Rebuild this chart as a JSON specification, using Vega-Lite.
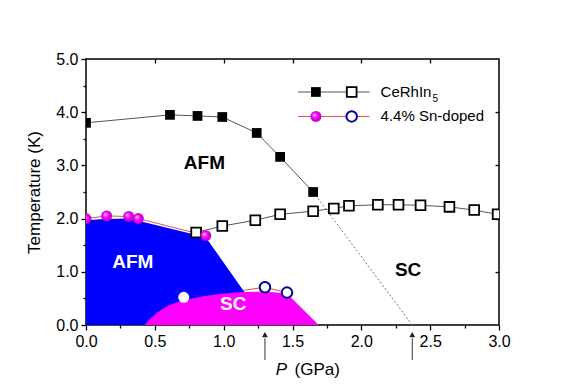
{
  "$schema": "https://vega.github.io/schema/vega-lite/v6.json",
  "width": 413,
  "height": 266,
  "autosize": {"type": "none"},
  "padding": {"left": 86, "top": 59, "right": 68, "bottom": 67},
  "config": {
    "font": "Liberation Sans",
    "view": {"stroke": "black", "strokeWidth": 1.5},
    "axis": {"grid": false, "domain": false, "labelFlush": false, "labelOverlap": false, "labelFont": "Liberation Sans", "labelFontSize": 16, "labelColor": "black", "tickColor": "black", "tickWidth": 1.3, "titleFont": "Liberation Sans", "titleColor": "black", "titleFontWeight": "normal"}
  },
  "datasets": {
    "afm_area": [{"P":0,"T":1.97},{"P":0.1,"T":1.99},{"P":0.29,"T":2.0},{"P":0.41,"T":1.94},{"P":0.87,"T":1.65},{"P":1.14,"T":0.66},{"P":1.36,"T":0}],
    "sc_area": [{"P":0.425,"T":0},{"P":0.47,"T":0.12},{"P":0.52,"T":0.24},{"P":0.6,"T":0.37},{"P":0.7,"T":0.46},{"P":0.85,"T":0.54},{"P":1.0,"T":0.59},{"P":1.15,"T":0.62},{"P":1.3,"T":0.63},{"P":1.46,"T":0.59},{"P":1.69,"T":0}],
    "tn_ce": [{"P":0,"T":3.8},{"P":0.61,"T":3.95},{"P":0.81,"T":3.93},{"P":0.99,"T":3.91},{"P":1.24,"T":3.61},{"P":1.41,"T":3.16},{"P":1.65,"T":2.5}],
    "dotted": [{"P":1.65,"T":2.5},{"P":2.37,"T":0}],
    "tc_ce": [{"P":0.8,"T":1.74},{"P":0.99,"T":1.86},{"P":1.23,"T":1.97},{"P":1.41,"T":2.08},{"P":1.65,"T":2.14},{"P":1.8,"T":2.19},{"P":1.91,"T":2.24},{"P":2.12,"T":2.26},{"P":2.27,"T":2.26},{"P":2.43,"T":2.25},{"P":2.64,"T":2.22},{"P":2.82,"T":2.16},{"P":2.99,"T":2.08}],
    "tn_sn": [{"P":0,"T":2.0},{"P":0.15,"T":2.05},{"P":0.31,"T":2.04},{"P":0.38,"T":2.0},{"P":0.87,"T":1.68}],
    "tc_sn_line": [{"P":1.14,"T":0.65},{"P":1.3,"T":0.71},{"P":1.46,"T":0.61}],
    "tc_sn": [{"P":1.3,"T":0.71},{"P":1.46,"T":0.61}],
    "white_pt": [{"P":0.71,"T":0.52}],
    "arrows": [{"P":1.3,"T":-0.25,"T2":-0.66},{"P":2.37,"T":-0.25,"T2":-0.66}],
    "arrowheads": [{"P":1.3,"T":-0.18},{"P":2.37,"T":-0.18}],
    "labels_black": [{"P":0.86,"T":3.04,"label":"AFM"},{"P":2.34,"T":1.03,"label":"SC"}],
    "labels_white": [{"P":0.34,"T":1.18,"label":"AFM"},{"P":1.07,"T":0.39,"label":"SC"}],
    "leg_line1": [{"P":1.54,"T":4.38},{"P":2.06,"T":4.38}],
    "leg_line2": [{"P":1.54,"T":3.92},{"P":2.06,"T":3.92}],
    "leg_fsq": [{"P":1.67,"T":4.38}],
    "leg_osq": [{"P":1.93,"T":4.38}],
    "leg_sph": [{"P":1.67,"T":3.92}],
    "leg_oc": [{"P":1.93,"T":3.92}],
    "leg_text1": [{"P":2.14,"T":4.38,"label":"CeRhIn"}],
    "leg_sub": [{"P":2.14,"T":4.38,"label":"5"}],
    "leg_text2": [{"P":2.14,"T":3.92,"label":"4.4% Sn-doped"}],
    "xt_p": [{"P":1.42,"T":-0.85,"label":"P"}],
    "xt_g": [{"P":1.68,"T":-0.85,"label":"(GPa)"}]
  },
  "encoding": {
    "x": {"field": "P", "type": "quantitative", "scale": {"domain": [0, 3], "nice": false}, "axis": null},
    "y": {"field": "T", "type": "quantitative", "scale": {"domain": [0, 5], "nice": false}, "axis": null}
  },
  "resolve": {"axis": {"x": "independent", "y": "independent"}},
  "layer": [
    {
      "data": {"name": "afm_area"},
      "mark": {"type": "area", "color": "#0000ff", "clip": true},
      "encoding": {
        "x": {"field": "P", "type": "quantitative", "scale": {"domain": [0, 3], "nice": false},
          "axis": {"orient": "bottom", "values": [0, 0.5, 1, 1.5, 2, 2.5, 3], "format": ".1f", "tickSize": 5, "labelPadding": 3, "title": null}},
        "y": {"field": "T", "type": "quantitative", "scale": {"domain": [0, 5], "nice": false},
          "axis": {"orient": "left", "values": [0, 1, 2, 3, 4, 5], "format": ".1f", "tickSize": 5, "labelPadding": 3, "title": "Temperature (K)", "titleFontSize": 17, "titlePadding": 12}}
      }
    },
    {
      "data": {"name": "sc_area"},
      "mark": {"type": "area", "color": "#ff00ff", "clip": true},
      "encoding": {
        "x": {"field": "P", "type": "quantitative", "scale": {"domain": [0, 3], "nice": false},
          "axis": {"orient": "top", "values": [0.5, 1, 1.5, 2, 2.5], "labels": false, "tickSize": -4, "title": null}},
        "y": {"field": "T", "type": "quantitative", "scale": {"domain": [0, 5], "nice": false},
          "axis": {"orient": "right", "values": [1, 2, 3, 4], "labels": false, "tickSize": -4, "title": null}}
      }
    },
    {
      "data": {"name": "labels_white"},
      "mark": {"type": "text", "color": "white", "fontSize": 19, "fontWeight": "bold", "align": "center", "baseline": "middle"},
      "encoding": {
        "text": {"field": "label"},
        "x": {"field": "P", "type": "quantitative", "scale": {"domain": [0, 3], "nice": false},
          "axis": {"orient": "bottom", "values": [0.25, 0.75, 1.25, 1.75, 2.25, 2.75], "labels": false, "tickSize": 3, "title": null}},
        "y": {"field": "T", "type": "quantitative", "scale": {"domain": [0, 5], "nice": false},
          "axis": {"orient": "left", "values": [0.5, 1.5, 2.5, 3.5, 4.5], "labels": false, "tickSize": 3, "title": null}}
      }
    },
    {
      "data": {"name": "dotted"},
      "mark": {"type": "line", "color": "#777777", "strokeWidth": 1, "strokeDash": [2, 2], "clip": true},
      "encoding": {}
    },
    {
      "data": {"name": "tn_ce"},
      "mark": {"type": "line", "color": "#555555", "strokeWidth": 1, "clip": true},
      "encoding": {}
    },
    {
      "data": {"name": "tc_ce"},
      "mark": {"type": "line", "color": "#555555", "strokeWidth": 1, "clip": true},
      "encoding": {}
    },
    {
      "data": {"name": "tn_sn"},
      "mark": {"type": "line", "color": "#e05050", "strokeWidth": 1, "clip": true},
      "encoding": {}
    },
    {
      "data": {"name": "tc_sn_line"},
      "mark": {"type": "line", "color": "#e05050", "strokeWidth": 1, "clip": true},
      "encoding": {}
    },
    {
      "data": {"name": "tn_ce"},
      "mark": {"type": "point", "shape": "square", "size": 95, "filled": true, "color": "black", "opacity": 1, "clip": true},
      "encoding": {}
    },
    {
      "data": {"name": "tc_ce"},
      "mark": {"type": "point", "shape": "square", "size": 95, "fill": "white", "stroke": "black", "strokeWidth": 1.8, "opacity": 1, "clip": true},
      "encoding": {}
    },
    {
      "data": {"name": "tn_sn"},
      "mark": {"type": "point", "shape": "circle", "size": 120, "filled": true, "opacity": 1, "clip": true,
        "fill": {"gradient": "radial", "x1": 0.35, "y1": 0.35, "r1": 0, "x2": 0.5, "y2": 0.5, "r2": 0.55, "stops": [{"offset": 0, "color": "#ffe0ff"}, {"offset": 0.45, "color": "#ff00ff"}, {"offset": 1, "color": "#b000b0"}]}},
      "encoding": {}
    },
    {
      "data": {"name": "tc_sn"},
      "mark": {"type": "point", "shape": "circle", "size": 110, "fill": "white", "stroke": "#000099", "strokeWidth": 2, "opacity": 1, "clip": true},
      "encoding": {}
    },
    {
      "data": {"name": "white_pt"},
      "mark": {"type": "point", "shape": "circle", "size": 120, "filled": true, "color": "white", "opacity": 1, "clip": true},
      "encoding": {}
    },
    {
      "data": {"name": "labels_black"},
      "mark": {"type": "text", "color": "black", "fontSize": 19, "fontWeight": "bold", "align": "center", "baseline": "middle"},
      "encoding": {"text": {"field": "label"}}
    },
    {
      "data": {"name": "leg_line1"},
      "mark": {"type": "line", "color": "#555555", "strokeWidth": 1},
      "encoding": {}
    },
    {
      "data": {"name": "leg_line2"},
      "mark": {"type": "line", "color": "#e05050", "strokeWidth": 1},
      "encoding": {}
    },
    {
      "data": {"name": "leg_fsq"},
      "mark": {"type": "point", "shape": "square", "size": 95, "filled": true, "color": "black", "opacity": 1},
      "encoding": {}
    },
    {
      "data": {"name": "leg_osq"},
      "mark": {"type": "point", "shape": "square", "size": 95, "fill": "white", "stroke": "black", "strokeWidth": 1.8, "opacity": 1},
      "encoding": {}
    },
    {
      "data": {"name": "leg_sph"},
      "mark": {"type": "point", "shape": "circle", "size": 120, "filled": true, "opacity": 1,
        "fill": {"gradient": "radial", "x1": 0.35, "y1": 0.35, "r1": 0, "x2": 0.5, "y2": 0.5, "r2": 0.55, "stops": [{"offset": 0, "color": "#ffe0ff"}, {"offset": 0.45, "color": "#ff00ff"}, {"offset": 1, "color": "#b000b0"}]}},
      "encoding": {}
    },
    {
      "data": {"name": "leg_oc"},
      "mark": {"type": "point", "shape": "circle", "size": 110, "fill": "white", "stroke": "#000099", "strokeWidth": 2, "opacity": 1},
      "encoding": {}
    },
    {
      "data": {"name": "leg_text1"},
      "mark": {"type": "text", "color": "black", "fontSize": 15, "align": "left", "baseline": "middle"},
      "encoding": {"text": {"field": "label"}}
    },
    {
      "data": {"name": "leg_sub"},
      "mark": {"type": "text", "color": "black", "fontSize": 10, "align": "left", "baseline": "middle", "dx": 52, "dy": 7},
      "encoding": {"text": {"field": "label"}}
    },
    {
      "data": {"name": "leg_text2"},
      "mark": {"type": "text", "color": "black", "fontSize": 15, "align": "left", "baseline": "middle"},
      "encoding": {"text": {"field": "label"}}
    },
    {
      "data": {"name": "arrows"},
      "mark": {"type": "rule", "color": "#333333", "strokeWidth": 1, "clip": false},
      "encoding": {"y2": {"field": "T2"}}
    },
    {
      "data": {"name": "arrowheads"},
      "mark": {"type": "point", "shape": "triangle-up", "size": 35, "filled": true, "color": "#222222", "opacity": 1, "clip": false},
      "encoding": {}
    },
    {
      "data": {"name": "xt_p"},
      "mark": {"type": "text", "color": "black", "fontSize": 17, "fontStyle": "italic", "align": "center", "baseline": "middle", "clip": false},
      "encoding": {"text": {"field": "label"}}
    },
    {
      "data": {"name": "xt_g"},
      "mark": {"type": "text", "color": "black", "fontSize": 17, "align": "center", "baseline": "middle", "clip": false},
      "encoding": {"text": {"field": "label"}}
    }
  ]
}
